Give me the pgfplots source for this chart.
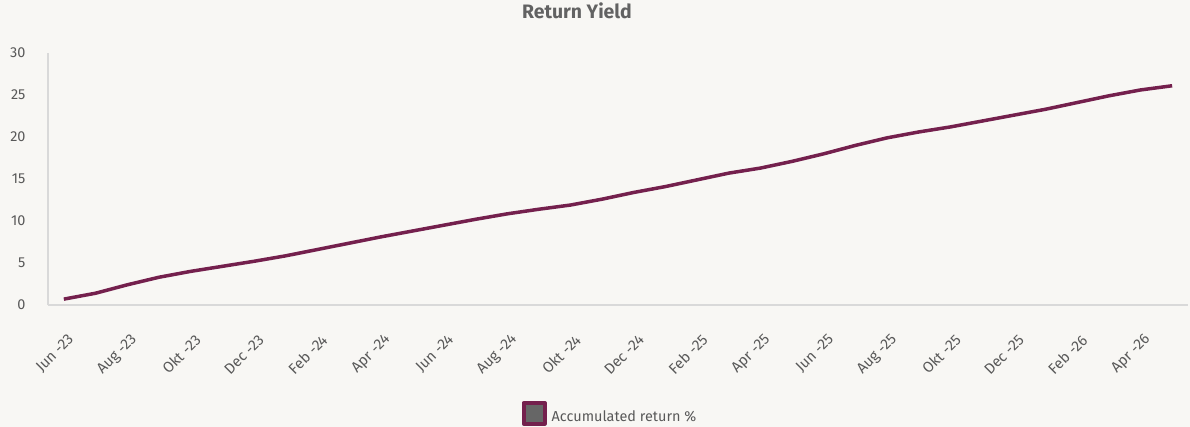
\documentclass[border=0pt]{standalone}
\usepackage{pgfplots}
\pgfplotsset{compat=1.18}
\usepackage{fontspec}
\setmainfont{Fira Sans}
\definecolor{bg}{HTML}{F8F7F4}
\definecolor{wine}{HTML}{74204D}
\definecolor{txt}{HTML}{595959}
\definecolor{ttl}{HTML}{626262}
\definecolor{axgray}{HTML}{D9D9D9}
\definecolor{legfill}{HTML}{666666}

\pgfplotstableread{
x y
0 0.7
1 1.4
2 2.4
3 3.3
4 4.0
5 4.6
6 5.2
7 5.85
8 6.6
9 7.35
10 8.1
11 8.8
12 9.5
13 10.2
14 10.85
15 11.4
16 11.9
17 12.6
18 13.4
19 14.1
20 14.9
21 15.7
22 16.3
23 17.1
24 18.0
25 19.0
26 19.9
27 20.6
28 21.2
29 21.9
30 22.6
31 23.3
32 24.1
33 24.9
34 25.6
35 26.1
}\returndata

\begin{document}
\begin{tikzpicture}
\useasboundingbox (0,0) rectangle (1190bp,427bp);
\fill[bg] (0,0) rectangle (1190bp,427bp);
\begin{axis}[
 at={(48bp,122bp)}, anchor=south west,
 width=1140bp, height=252bp, scale only axis,
 xmin=-0.5, xmax=35.5, ymin=0, ymax=30,
 ytick={0,5,...,30},
 xtick={0,2,...,34},
 xticklabels={Jun -23, Aug -23, Okt -23, Dec -23, Feb -24, Apr -24, Jun -24, Aug -24, Okt -24, Dec -24, Feb -25, Apr -25, Jun -25, Aug -25, Okt -25, Dec -25, Feb -26, Apr -26},
 axis x line*=bottom, axis y line*=left,
 axis line style={axgray, line width=1.5bp, -},
 major tick length=0pt,
 tick label style={font=\fontsize{14.5}{16}\selectfont, text=txt},
 /pgf/number format/assume math mode=true,
 xticklabel style={xshift=10bp, yshift=-30bp, rotate=45, anchor=east, font=\fontsize{15}{17}\selectfont},
 yticklabel style={xshift=-19bp},
 title={Return Yield},
 title style={font=\fontsize{19.5}{22}\selectfont\bfseries, text=ttl, at={(0.464,1.143)}, anchor=center},
 legend style={at={(0.493,-0.43)}, anchor=center, draw=none, fill=none, font=\fontsize{14.5}{17}\selectfont, text=txt},
 legend image code/.code={\draw[fill=legfill, draw=wine, line width=4bp] (2bp,-7bp) rectangle (23bp,14bp); \path[draw=none, fill=none] (0bp,0bp) rectangle (28bp,1bp);},
]
\addplot[wine, line width=3.5bp, line join=round] table[x=x, y=y] {\returndata};
\addlegendentry{Accumulated return \%}
\end{axis}
\end{tikzpicture}
\end{document}
